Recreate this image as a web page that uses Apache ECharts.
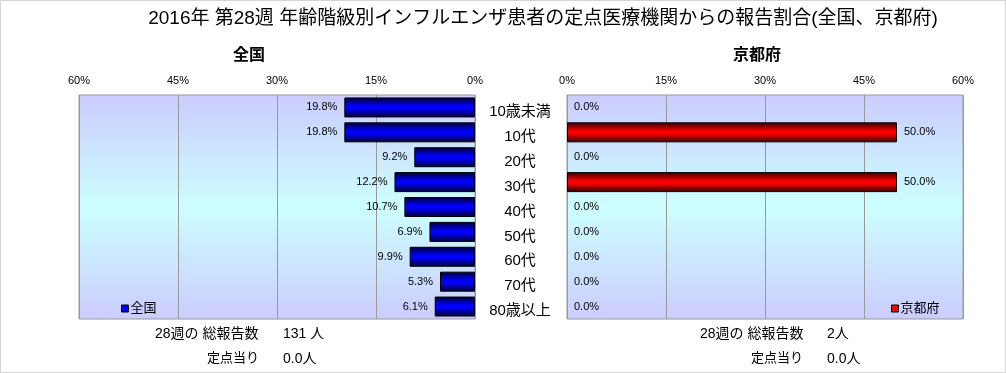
<!DOCTYPE html>
<html><head><meta charset="utf-8">
<script src="https://cdn.jsdelivr.net/npm/echarts@6/dist/echarts.min.js"></script>
<style>html,body{margin:0;padding:0;background:#fff}#c{width:1006px;height:373px}</style>
</head><body><div id="c"></div>
<script>
const categories = ['10歳未満','10代','20代','30代','40代','50代','60代','70代','80歳以上'];
const nationalValues = [19.8, 19.8, 9.2, 12.2, 10.7, 6.9, 9.9, 5.3, 6.1];
const kyotoValues = [0.0, 50.0, 0.0, 50.0, 0.0, 0.0, 0.0, 0.0, 0.0];
const axisTicks = [0, 15, 30, 45, 60];
const nationalTotal = '131 人';
const nationalPerSite = '0.0人';
const kyotoTotal = '2人';
const kyotoPerSite = '0.0人';

const FONT = '"Liberation Sans", "Noto Sans CJK JP", sans-serif';
const chart = echarts.init(document.getElementById('c'), null, {renderer:'canvas'});

const bgGrad = {type:'linear', x:0, y:0, x2:0, y2:1, colorStops:[
  {offset:0, color:'#ccccff'}, {offset:0.5, color:'#ccffff'}, {offset:1, color:'#ccccff'}]};
const blueGrad = {type:'linear', x:0, y:0, x2:0, y2:1, colorStops:[
  {offset:0, color:'#000030'}, {offset:0.45, color:'#0000ff'}, {offset:0.55, color:'#0000ff'}, {offset:1, color:'#000030'}]};
const redGrad = {type:'linear', x:0, y:0, x2:0, y2:1, colorStops:[
  {offset:0, color:'#300000'}, {offset:0.45, color:'#ff0000'}, {offset:0.55, color:'#ff0000'}, {offset:1, color:'#300000'}]};

function xAxisCfg(gridIndex, inverse){
  return {
    type:'value', gridIndex, position:'top', inverse,
    min:axisTicks[0], max:axisTicks[axisTicks.length-1], interval:15,
    axisLabel:{formatter:'{value}%', color:'#000', fontSize:11, fontFamily:FONT, margin:9},
    axisLine:{show:false}, axisTick:{show:false},
    splitLine:{show:true, lineStyle:{color:'#999999', width:1}}
  };
}
function barData(values){
  return values.map(v => v === 0 ? {value:v, itemStyle:{borderWidth:0}} : v);
}
const labelFmt = p => Number(p.value).toFixed(1) + '%';

const option = {
  animation:false,
  backgroundColor:'#ffffff',
  title:[
    {text:'2016年 第28週 年齢階級別インフルエンザ患者の定点医療機関からの報告割合(全国、京都府)',
     left:538, top:4, textAlign:'center',
     textStyle:{fontSize:19, fontWeight:'normal', color:'#000', fontFamily:FONT}},
    {text:'全国', left:244, top:43, textAlign:'center',
     textStyle:{fontSize:16, fontWeight:'bold', color:'#000', fontFamily:FONT}},
    {text:'京都府', left:752, top:43, textAlign:'center',
     textStyle:{fontSize:16, fontWeight:'bold', color:'#000', fontFamily:FONT}}
  ],
  legend:[
    {data:[{name:'全国', itemStyle:{color:'#0000ff', borderColor:'#000', borderWidth:1}}],
     left:116, top:297, icon:'rect', itemWidth:7, itemHeight:7, itemGap:2,
     textStyle:{fontSize:13, color:'#000', fontFamily:FONT, padding:[0,0,0,-3]}},
    {data:[{name:'京都府', itemStyle:{color:'#ff0000', borderColor:'#000', borderWidth:1}}],
     left:886, top:297, icon:'rect', itemWidth:7, itemHeight:7, itemGap:2,
     textStyle:{fontSize:13, color:'#000', fontFamily:FONT, padding:[0,0,0,-3]}}
  ],
  grid:[
    {left:79, right:531, top:95, bottom:54, show:true, backgroundColor:bgGrad, borderColor:'#999999', borderWidth:1},
    {left:567, right:43, top:95, bottom:54, show:true, backgroundColor:bgGrad, borderColor:'#999999', borderWidth:1}
  ],
  xAxis:[xAxisCfg(0, true), xAxisCfg(1, false)],
  yAxis:[
    {type:'category', gridIndex:0, data:categories, inverse:true, position:'right',
     axisLine:{show:false}, axisTick:{show:false},
     axisLabel:{color:'#000', fontSize:15, fontFamily:FONT, align:'center', margin:45,
       verticalAlign:'top', lineHeight:9}},
    {type:'category', gridIndex:1, data:categories, inverse:true,
     axisLine:{show:false}, axisTick:{show:false}, axisLabel:{show:false}}
  ],
  series:[
    {name:'全国', type:'bar', xAxisIndex:0, yAxisIndex:0, data:barData(nationalValues), barWidth:20,
     itemStyle:{color:blueGrad, borderColor:'#000', borderWidth:1},
     label:{show:true, position:'left', distance:7, color:'#000', fontSize:11, fontFamily:FONT, formatter:labelFmt}},
    {name:'京都府', type:'bar', xAxisIndex:1, yAxisIndex:1, data:barData(kyotoValues), barWidth:20,
     itemStyle:{color:redGrad, borderColor:'#000', borderWidth:1},
     label:{show:true, position:'right', distance:7, color:'#000', fontSize:11, fontFamily:FONT, formatter:labelFmt}}
  ],
  graphic:[
    {type:'rect', shape:{x:0.5, y:0.5, width:1005, height:372}, style:{fill:'none', stroke:'#d4d4d4', lineWidth:1}, silent:true},
    {type:'text', left:155, top:327, style:{text:'28週の 総報告数', fontSize:14, fontFamily:FONT, fill:'#000'}},
    {type:'text', left:283, top:327, style:{text:nationalTotal, fontSize:14, fontFamily:FONT, fill:'#000'}},
    {type:'text', left:207, top:352, style:{text:'定点当り', fontSize:13, fontFamily:FONT, fill:'#000'}},
    {type:'text', left:283, top:352, style:{text:nationalPerSite, fontSize:14, fontFamily:FONT, fill:'#000'}},
    {type:'text', left:700, top:327, style:{text:'28週の 総報告数', fontSize:14, fontFamily:FONT, fill:'#000'}},
    {type:'text', left:827, top:327, style:{text:kyotoTotal, fontSize:14, fontFamily:FONT, fill:'#000'}},
    {type:'text', left:751, top:352, style:{text:'定点当り', fontSize:13, fontFamily:FONT, fill:'#000'}},
    {type:'text', left:827, top:352, style:{text:kyotoPerSite, fontSize:14, fontFamily:FONT, fill:'#000'}}
  ]
};
chart.setOption(option);
</script></body></html>
